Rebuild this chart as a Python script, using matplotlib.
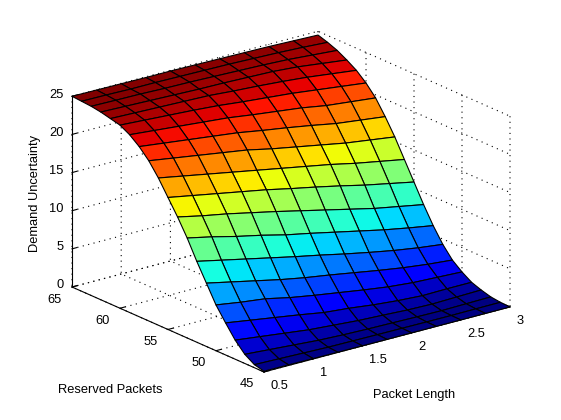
#!/usr/bin/env python
import numpy as np
import matplotlib
matplotlib.use("Agg")
import matplotlib.pyplot as plt
from matplotlib.transforms import ScaledTranslation
from mpl_toolkits.mplot3d import proj3d

plt.rcParams["font.family"] = ["Liberation Sans", "DejaVu Sans"]
FONT = 9.3
WIDTH, HEIGHT = 561, 420

packet_length = [0.5, 0.75, 1.0, 1.25, 1.5, 1.75, 2.0, 2.25, 2.5, 2.75, 3.0]
reserved = [65, 64, 63, 62, 61, 60, 59, 58, 57, 56, 55, 54, 53, 52, 51, 50, 49, 48, 47, 46, 45]

# demand uncertainty along the reserved axis (65 down to 45), one list per packet length
z_len_050 = [25.0, 24.9, 24.8, 24.6, 24.3, 24.0, 23.3, 22.3, 21.0, 19.3, 17.3, 15.3, 13.1, 10.6, 8.3, 6.0, 4.2, 2.5, 1.2, 0.4, 0.1]
z_len_075 = [24.97, 24.87, 24.74, 24.5, 24.2, 23.8, 23.0, 21.9, 20.5, 18.7, 16.7, 14.6, 12.4, 9.9, 7.6, 5.5, 3.7, 2.1, 0.96, 0.31, 0.08]
z_len_100 = [24.94, 24.8, 24.7, 24.4, 24.1, 23.6, 22.7, 21.5, 20.0, 18.1, 16.1, 14.0, 11.6, 9.2, 6.9, 5.1, 3.2, 1.7, 0.72, 0.22, 0.05]
z_len_125 = [24.9, 24.8, 24.6, 24.3, 24.0, 23.4, 22.4, 21.1, 19.5, 17.5, 15.5, 13.3, 10.9, 8.5, 6.2, 4.4, 2.7, 1.3, 0.48, 0.13, 0.03]
z_len_150 = [24.9, 24.75, 24.55, 24.2, 23.9, 23.15, 22.1, 20.7, 19.0, 16.9, 14.9, 12.6, 10.1, 7.8, 5.6, 3.85, 2.15, 1.05, 0.34, 0.1, 0.02]
z_len_175 = [24.85, 24.7, 24.45, 24.15, 23.65, 22.8, 21.65, 20.15, 18.3, 16.3, 14.2, 11.85, 9.45, 7.15, 5.1, 3.35, 1.85, 0.8, 0.25, 0.07, 0.01]
z_len_200 = [24.8, 24.65, 24.35, 24.05, 23.45, 22.5, 21.25, 19.65, 17.7, 15.7, 13.55, 11.1, 8.75, 6.45, 4.55, 2.85, 1.45, 0.65, 0.2, 0.05, 0.01]
z_len_225 = [24.75, 24.55, 24.25, 23.95, 23.2, 22.2, 20.85, 19.1, 17.1, 15.1, 12.85, 10.35, 8.05, 5.8, 4.0, 2.4, 1.15, 0.48, 0.14, 0.03, 0.01]
z_len_250 = [24.7, 24.45, 24.1, 23.7, 22.9, 21.8, 20.3, 18.5, 16.5, 14.4, 12.1, 9.6, 7.35, 5.2, 3.5, 2.1, 0.95, 0.4, 0.1, 0.02, 0.0]
z_len_275 = [24.6, 24.3, 23.85, 23.3, 22.5, 21.4, 19.95, 18.1, 16.05, 13.8, 11.45, 9.0, 6.75, 4.7, 3.1, 1.95, 1.0, 0.48, 0.15, 0.04, 0.0]
z_len_300 = [24.5, 24.1, 23.6, 22.9, 22.1, 21.0, 19.6, 17.7, 15.6, 13.2, 10.8, 8.4, 6.2, 4.3, 2.8, 1.8, 1.0, 0.55, 0.2, 0.05, 0.0]

x_ticks = [0.5, 1, 1.5, 2, 2.5, 3]
x_labels = ["0.5", "1", "1.5", "2", "2.5", "3"]
y_ticks = [45, 50, 55, 60, 65]
z_ticks = [0, 5, 10, 15, 20, 25]


def corner_px(ax, x, y, z):
    px, py, _ = proj3d.proj_transform(x, y, z, ax.get_proj())
    return ax.transData.transform((px, py))


def fit_axes(fig, ax):
    # scale and move the axes so two floor corners land where the reference has them
    target_a = np.array([72, HEIGHT - 287])
    target_b = np.array([510, HEIGHT - 307])
    fig.canvas.draw()
    a = corner_px(ax, 0.5, 65, 0)
    b = corner_px(ax, 3, 45, 0)
    f = np.linalg.norm(target_b - target_a) / np.linalg.norm(b - a)
    l, bt, w, h = ax.get_position(original=True).bounds
    ax.set_position([l, bt, w * f, h * f])
    fig.canvas.draw()
    a = corner_px(ax, 0.5, 65, 0)
    shift = target_a - a
    l, bt, w, h = ax.get_position(original=True).bounds
    ax.set_position([l + shift[0] / WIDTH, bt + shift[1] / HEIGHT, w, h])


def nudge(fig, axis, ha, dx, dy):
    # Axis3D.get_major_ticks resets the label transform on every draw, so block that
    for tick in axis.get_major_ticks():
        label = tick.label1
        label.set_ha(ha)
        label.set_transform(axis.axes.transData + ScaledTranslation(dx / 100, dy / 100, fig.dpi_scale_trans))
        label.set_transform = lambda t: None


def main():
    z = np.array([z_len_050, z_len_075, z_len_100, z_len_125, z_len_150, z_len_175,
                  z_len_200, z_len_225, z_len_250, z_len_275, z_len_300]).T
    # ascending reserved, each face coloured by the mean of its two rows
    z = z[::-1]
    x, y = np.meshgrid(packet_length, reserved[::-1])
    face = np.vstack([(z[:-1] + z[1:]) / 2, z[-1:]])

    fig = plt.figure(figsize=(WIDTH / 100, HEIGHT / 100), dpi=100)
    ax = fig.add_axes([0, 0, 1, 1], projection="3d")
    ax.set_proj_type("ortho")
    ax.view_init(elev=20, azim=-127.7)
    ax.set_box_aspect((311, 314, 203))

    colors = plt.cm.jet(face / 25.0)
    ax.plot_surface(x, y, z, facecolors=colors, rstride=1, cstride=1, shade=False,
                    edgecolor="black", linewidth=0.8, antialiased=True)

    ax.set_xlim(0.5, 3, view_margin=0)
    ax.set_ylim(45, 65, view_margin=0)
    ax.set_zlim(0, 25, view_margin=0)
    ax.set_xticks(x_ticks)
    ax.set_xticklabels(x_labels)
    ax.set_yticks(y_ticks)
    ax.set_zticks(z_ticks)
    ax.tick_params(labelsize=FONT, pad=1, colors="black")

    for axis in (ax.xaxis, ax.yaxis, ax.zaxis):
        axis.pane.set_facecolor("white")
        axis.pane.set_edgecolor("none")
        axis.line.set_color("black")
        axis.line.set_linewidth(0.8)
        axis._axinfo["grid"].update(color="black", linewidth=0.8, linestyle=(0, (1, 4)))
        axis._axinfo["tick"].update(inward_factor=0.0, outward_factor=0.25)

    fit_axes(fig, ax)

    nudge(fig, ax.xaxis, "left", -3, 5.5)
    nudge(fig, ax.yaxis, "center", -5, 6.5)
    nudge(fig, ax.zaxis, "right", 14, 6.5)

    fig.text(110 / WIDTH, 1 - 390 / HEIGHT, "Reserved Packets", fontsize=FONT, ha="center", va="center")
    fig.text(414 / WIDTH, 1 - 395 / HEIGHT, "Packet Length", fontsize=FONT, ha="center", va="center")
    fig.text(35 / WIDTH, 1 - 193 / HEIGHT, "Demand Uncertainty", fontsize=FONT, ha="center", va="center",
             rotation=90)

    fig.savefig("out.png", dpi=100)


if __name__ == "__main__":
    main()
